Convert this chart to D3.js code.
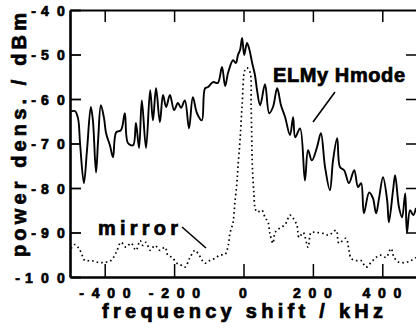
<!DOCTYPE html>
<html>
<head>
<meta charset="utf-8" />
<script src="https://d3js.org/d3.v7.min.js"></script>
<style>
  body { margin: 0; background: #fff; }
  svg { font-family: "Liberation Sans", Arial, sans-serif; font-weight: bold; }
  .heavy { stroke: #000; stroke-width: 0.7px; paint-order: fill; }
</style>
</head>
<body>
<svg id="chart" width="416" height="332"></svg>
<script>
// ELMy H-mode spectrum (solid)
var elmyFreq = [-500, -486, -477, -471, -460, -451, -440, -434, -425, -419, -411, -402, -396, -385, -376, -367,
  -353, -342, -333, -318, -310, -301, -293, -281, -269, -261, -252, -241, -232, -223, -212, -200,
  -189, -180, -169, -157, -146, -134, -120, -111, -102, -88, -74, -62, -53, -44, -30, -22,
  -16, -10, -4, 2, 10, 16, 25, 33, 39, 48, 62, 74, 85, 97, 108, 120,
  134, 143, 149, 163, 177, 186, 197, 212, 223, 235, 249, 258, 270, 278, 290, 304,
  319, 330, 339, 347, 362, 373, 382, 391, 402, 414, 419, 431, 437, 448, 457, 466,
  471, 480, 489, 497];
var elmyPower = [-62.9, -62.7, -64.3, -70, -78.9, -71.5, -61.8, -64.8, -76.5, -69.3, -61.4, -64.3, -67.7, -70.4, -73.1, -67.5,
  -67, -63.2, -69.9, -70.4, -65.4, -71, -60.3, -71, -58, -64.8, -57.6, -65.2, -59.1, -61.8, -59.1, -62.5,
  -60.9, -62, -60.3, -66.6, -59.6, -63.2, -64.8, -57.6, -57.3, -56.2, -56.4, -52.8, -57.1, -54, -51.3, -51.9,
  -50.1, -49, -46.3, -50.1, -47.4, -48.6, -51.9, -54.6, -58, -61.4, -56.7, -63.2, -61.8, -57.6, -61.4, -64.1,
  -68.1, -64.1, -68.6, -66.6, -78.3, -71.5, -73.8, -70.8, -67.7, -75.3, -80.5, -73.8, -68.8, -75.3, -76, -78.9,
  -76, -79.8, -78.9, -85.7, -81, -82.3, -85.7, -82.1, -77.6, -82.8, -87.7, -80.5, -77.1, -84.3, -86.6, -81.2,
  -90, -85, -86.1, -84.5];

// mirror spectrum (dotted)
var mirrorFreq = [-497, -486, -477, -468, -457, -440, -419, -399, -382, -367, -353, -339, -324, -310, -298, -290,
  -281, -269, -255, -241, -226, -218, -206, -192, -183, -169, -154, -140, -131, -111, -97, -82,
  -68, -53, -44, -39, -30, -25, -19, -16, -10, -4, 4, 10, 19, 22, 25, 27,
  30, 33, 39, 53, 62, 71, 76, 85, 91, 105, 120, 134, 143, 154, 160, 172,
  186, 195, 209, 229, 246, 267, 275, 295, 304, 310, 324, 339, 353, 368, 382, 396,
  411, 425, 434, 448, 468, 483, 497];
var mirrorPower = [-93.6, -92.7, -93.3, -94.5, -96.3, -96.3, -96.7, -96.7, -96.3, -94.5, -92.2, -93.3, -92.4, -94, -91.8, -92.9,
  -92.2, -94, -92.9, -94, -93.3, -95.1, -95.6, -96.9, -97.2, -97.8, -95.6, -94, -94.7, -96.9, -96.3, -95.8,
  -95.1, -94.9, -92.9, -90.2, -87.7, -83.4, -78.9, -75.3, -69.2, -61.4, -53.5, -53, -54, -61.4, -73.8, -77.6,
  -81.2, -84.3, -85.4, -85, -86.6, -87.7, -90.2, -92.4, -90, -89, -88.2, -86.1, -86.8, -88.4, -91.1, -90,
  -93.3, -90, -90, -90.2, -90.6, -89.5, -92.4, -91.3, -94, -95.8, -96.3, -96.3, -97.8, -96.7, -95.6, -95.1,
  -95.6, -93.6, -95.6, -96.7, -96.7, -96.3, -95.6];

var xTicks = [-400, -200, 0, 200, 400];
var yTicks = [-40, -50, -60, -70, -80, -90, -100];

var svg = d3.select('#chart');
var x = d3.scaleLinear().domain([-500, 500]).range([70, 417]);
var y = d3.scaleLinear().domain([-100, -40]).range([277, 10]);
var fmt = function (d) { return String(d); };

// the original prints tick labels with wide gaps between the characters;
// draw each character on its own: digits on an even pitch, the minus a bit closer
function spacedLabel(sel, pitch, minusGap, align) {
  sel.each(function () {
    var t = d3.select(this);
    var s = t.text();
    var g = d3.select(this.parentNode);
    var baseX = +t.attr('x') || 0, baseY = +t.attr('y') || 0;
    t.remove();
    var pos = [], cur = 0;
    for (var i = 0; i < s.length; i++) {
      if (i > 0) cur += (s[i - 1] === '-' ? minusGap : pitch);
      pos.push(cur);
    }
    var shift = align === 'end' ? baseX - cur : baseX - cur / 2;
    for (var j = 0; j < s.length; j++) {
      g.append('text').attr('class', 'heavy')
        .attr('x', pos[j] + shift).attr('y', baseY).attr('dy', align === 'end' ? '0.36em' : 0)
        .attr('text-anchor', 'middle').attr('fill', '#000')
        .attr('font-size', 14).attr('font-weight', 'bold')
        .attr('font-family', '"Liberation Sans", Arial, sans-serif')
        .text(s[j]);
    }
  });
}

// frame ticks: inward on all four sides
svg.append('g').attr('transform', 'translate(0,10)')
  .call(d3.axisTop(x).tickValues(xTicks).tickSize(-12).tickSizeOuter(0).tickFormat(''))
  .call(function (g) { g.select('.domain').attr('stroke-width', 1.8); g.selectAll('line').attr('stroke-width', 1.5); });

svg.append('g').attr('transform', 'translate(417,0)')
  .call(d3.axisRight(y).tickValues(yTicks.slice(1, 6)).tickSize(-11).tickSizeOuter(0).tickFormat(''))
  .call(function (g) { g.select('.domain').remove(); g.selectAll('line').attr('stroke-width', 1.5); });

var gy = svg.append('g').attr('transform', 'translate(70,0)')
  .call(d3.axisLeft(y).tickValues(yTicks).tickSize(-11).tickSizeOuter(0).tickFormat(fmt));
gy.select('.domain').attr('stroke-width', 2.6);
gy.selectAll('line').attr('stroke-width', 1.8);
gy.selectAll('text').attr('x', -9).attr('y', 0);
spacedLabel(gy.selectAll('text'), 16, 11.5, 'end');

var gx = svg.append('g').attr('transform', 'translate(0,277)')
  .call(d3.axisBottom(x).tickValues(xTicks).tickSize(-13).tickSizeOuter(0).tickFormat(fmt));
gx.select('.domain').attr('stroke-width', 2.6);
gx.selectAll('line').attr('stroke-width', 1.5);
gx.selectAll('text').attr('x', -1).attr('y', 21);
spacedLabel(gx.selectAll('text'), 15.5, 14, 'middle');

// data lines
var line = d3.line().curve(d3.curveCatmullRom.alpha(0.5))
  .x(function (d) { return x(d[0]); }).y(function (d) { return y(d[1]); });

svg.append('path')
  .datum(d3.zip(mirrorFreq, mirrorPower))
  .attr('d', line)
  .attr('fill', 'none').attr('stroke', '#000')
  .attr('stroke-width', 1.7).attr('stroke-dasharray', '1.6,3');

svg.append('path')
  .datum(d3.zip(elmyFreq, elmyPower))
  .attr('d', line)
  .attr('fill', 'none').attr('stroke', '#000')
  .attr('stroke-width', 1.9).attr('stroke-linejoin', 'round');

// annotations
svg.append('text').attr('x', 273).attr('y', 82).attr('class', 'heavy')
  .attr('font-size', 20).attr('textLength', 132).attr('lengthAdjust', 'spacing')
  .text('ELMy Hmode');
svg.append('line').attr('x1', 335).attr('y1', 92).attr('x2', 313).attr('y2', 122)
  .attr('stroke', '#000').attr('stroke-width', 1.6);

svg.append('text').attr('x', 98).attr('y', 235).attr('class', 'heavy')
  .attr('font-size', 20).attr('textLength', 80).attr('lengthAdjust', 'spacing')
  .text('mirror');
svg.append('line').attr('x1', 182).attr('y1', 227).attr('x2', 206).attr('y2', 248)
  .attr('stroke', '#000').attr('stroke-width', 1.6);

// axis titles
svg.append('text').attr('x', 102).attr('y', 318).attr('class', 'heavy')
  .attr('font-size', 20).attr('textLength', 281).attr('lengthAdjust', 'spacing')
  .text('frequency  shift  /  kHz');

svg.append('text').attr('class', 'heavy')
  .attr('transform', 'translate(26,257) rotate(-90)')
  .attr('font-size', 20).attr('textLength', 244).attr('lengthAdjust', 'spacing')
  .text('power  dens.  /  dBm');
</script>
</body>
</html>
